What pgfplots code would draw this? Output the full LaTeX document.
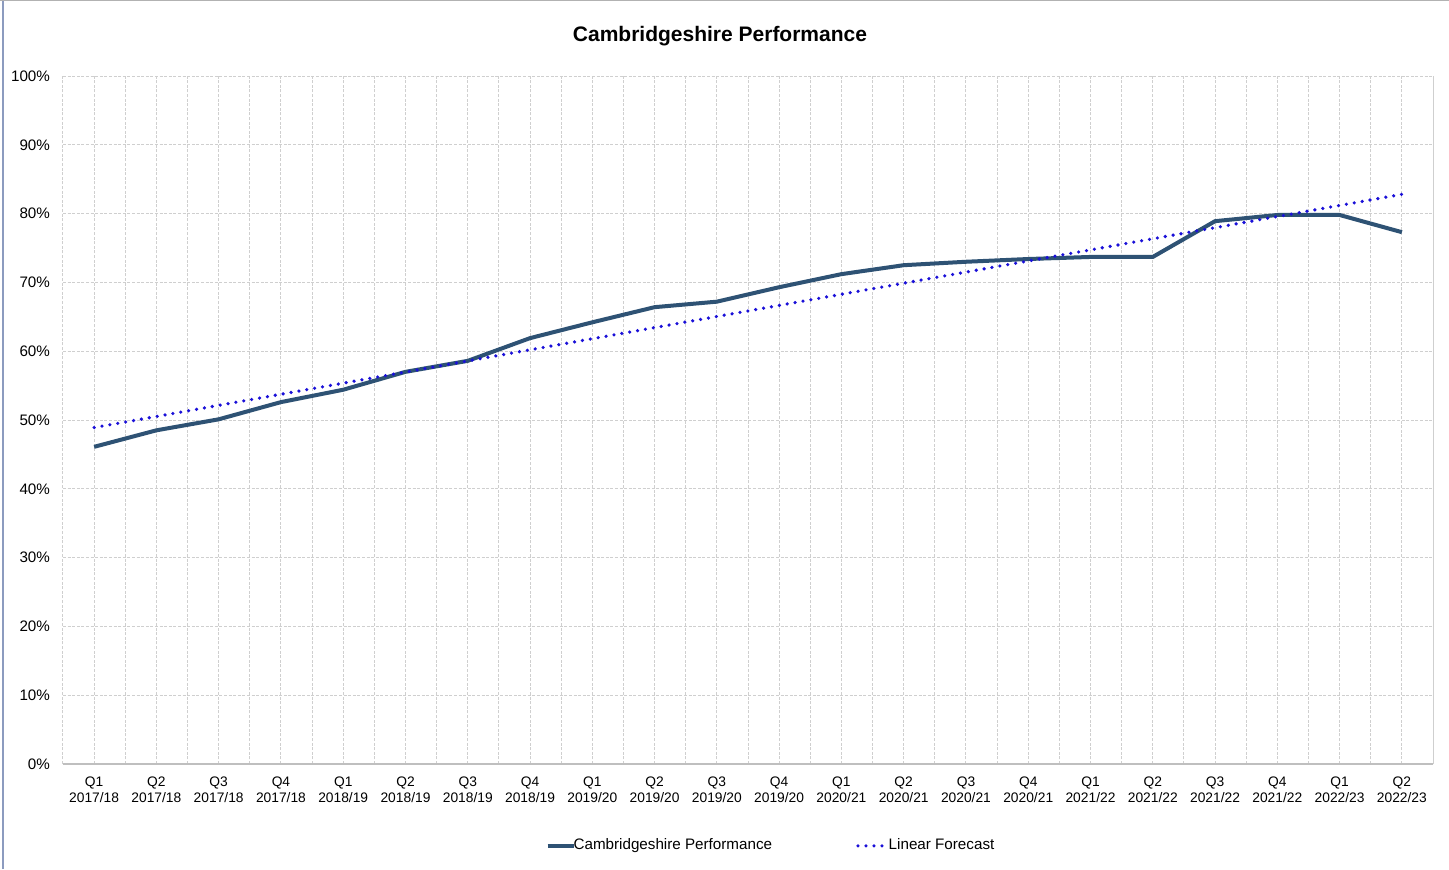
\documentclass[border=0pt]{standalone}
\usepackage{pgfplots}
\pgfplotsset{compat=1.18}
\usepackage{fontspec}
\setmainfont{Liberation Sans}
\definecolor{mainline}{HTML}{2E5274}
\definecolor{fcast}{HTML}{1A10D8}
\definecolor{gridc}{HTML}{CFCFCF}
\definecolor{leftframe}{HTML}{8C9BBF}
\begin{document}
\begin{tikzpicture}
\useasboundingbox (0,0) rectangle (724.5pt,434.5pt);
\fill[white] (0,0) rectangle (724.5pt,434.5pt);
\draw[leftframe, line width=1.2pt] (1.6pt,0) -- (1.6pt,434.5pt);
\draw[gray!60, line width=0.6pt] (0,434.2pt) -- (724.5pt,434.2pt);
\node[font=\fontsize{10.5pt}{12.5pt}\selectfont\bfseries] at (360pt,416.5pt) {Cambridgeshire Performance};
\begin{axis}[
  at={(31.5pt,52.5pt)}, anchor=south west,
  width=685pt, height=344pt, scale only axis,
  xmin=-0.5, xmax=21.5, ymin=0, ymax=100,
  xtick={0,...,21},
  minor xtick={-0.5,0.5,...,21.5},
  ytick={0,10,...,100},
  xticklabels={{Q1\\2017/18},{Q2\\2017/18},{Q3\\2017/18},{Q4\\2017/18},
    {Q1\\2018/19},{Q2\\2018/19},{Q3\\2018/19},{Q4\\2018/19},
    {Q1\\2019/20},{Q2\\2019/20},{Q3\\2019/20},{Q4\\2019/20},
    {Q1\\2020/21},{Q2\\2020/21},{Q3\\2020/21},{Q4\\2020/21},
    {Q1\\2021/22},{Q2\\2021/22},{Q3\\2021/22},{Q4\\2021/22},
    {Q1\\2022/23},{Q2\\2022/23}},
  xticklabel style={align=center, font=\fontsize{6.9pt}{8pt}\selectfont, yshift=-3pt},
  yticklabel={\pgfmathprintnumber{\tick}\%},
  yticklabel style={font=\fontsize{7.6pt}{9pt}\selectfont, xshift=-3pt},
  /pgf/number format/assume math mode=true,
  major tick length=0pt, minor tick length=0pt,
  axis line style={draw=none},
  xmajorgrids, xminorgrids, ymajorgrids,
  major grid style={gridc, dash pattern=on 1.5pt off 0.8pt, line width=0.5pt},
  minor grid style={gridc, dash pattern=on 1.5pt off 0.8pt, line width=0.5pt},
  legend columns=2,
  legend style={draw=none, fill=none, at={(rel axis cs:0.5175,-0.119)}, anchor=center,
    font=\fontsize{7.6pt}{9pt}\selectfont, /tikz/every even column/.append style={column sep=40pt},
    /tikz/every odd column/.append style={column sep=-3pt}},
  legend image code/.code={\draw[#1] (0pt,0pt) -- (13pt,0pt);},
  clip=false,
]
\draw[gray!50, line width=0.6pt] (axis cs:-0.5,0) -- (axis cs:21.5,0);
\draw[gridc, line width=0.5pt] (axis cs:21.5,0) -- (axis cs:21.5,100);
\addplot[mainline, line width=2pt, line join=round] coordinates {
(0,46.1) (1,48.5) (2,50.1) (3,52.6) (4,54.4) (5,57.0) (6,58.6) (7,61.9)
(8,64.2) (9,66.4) (10,67.2) (11,69.3) (12,71.2) (13,72.5) (14,73.0) (15,73.4)
(16,73.7) (17,73.7) (18,78.9) (19,79.8) (20,79.8) (21,77.3)
};
\addlegendentry{Cambridgeshire Performance}
\addplot[fcast, line width=1.8pt, line cap=round, dash pattern=on 0pt off 4pt] coordinates {
(0,48.9) (21,82.8)
};
\addlegendentry{\hspace{2.5pt}Linear Forecast}
\end{axis}
\end{tikzpicture}
\end{document}
